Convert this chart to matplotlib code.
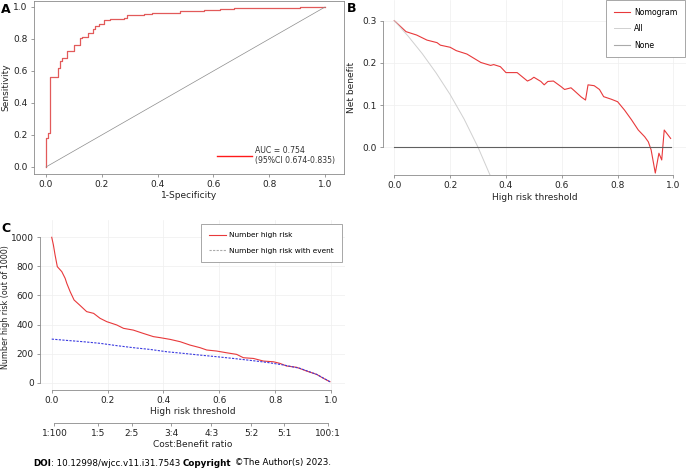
import numpy as np
import matplotlib
matplotlib.use('Agg')
import matplotlib.pyplot as plt
from matplotlib.text import Annotation

plt.rcParams['font.family'] = ['DejaVu Sans']
plt.rcParams['axes.linewidth'] = 0.6

# --- panel A: ROC curve (step vertices, steps-post) ---
roc_fpr = [0.0, 0.0, 0.007, 0.013, 0.042, 0.049, 0.057, 0.075, 0.101, 0.121, 0.129, 0.149,
           0.168, 0.177, 0.191, 0.209, 0.23, 0.28, 0.29, 0.35, 0.38, 0.481, 0.567, 0.624,
           0.672, 0.91, 1.0]
roc_tpr = [0.0, 0.18, 0.21, 0.5625, 0.619, 0.66, 0.679, 0.723, 0.765, 0.806, 0.812, 0.835,
           0.86, 0.88, 0.894, 0.917, 0.925, 0.931, 0.948, 0.956, 0.962, 0.973, 0.979, 0.988,
           0.996, 1.0, 1.0]
auc_label = 'AUC = 0.754\n(95%CI 0.674-0.835)'

# --- panel B: decision curve ---
dca_thr = [0.0, 0.042, 0.08, 0.117, 0.153, 0.165, 0.2, 0.222, 0.26, 0.295, 0.31, 0.345,
           0.356, 0.38, 0.4, 0.44, 0.477, 0.49, 0.5, 0.525, 0.537, 0.55, 0.57, 0.597, 0.61,
           0.633, 0.645, 0.67, 0.685, 0.694, 0.716, 0.735, 0.75, 0.777, 0.8, 0.825, 0.85,
           0.874, 0.897, 0.91, 0.92, 0.935, 0.948, 0.958, 0.967, 0.99]
dca_nomogram = [0.3, 0.274, 0.266, 0.254, 0.248, 0.242, 0.237, 0.229, 0.221, 0.207, 0.201,
                0.194, 0.196, 0.191, 0.177, 0.177, 0.157, 0.161, 0.166, 0.156, 0.148, 0.156,
                0.157, 0.144, 0.137, 0.141, 0.134, 0.119, 0.112, 0.148, 0.146, 0.137, 0.12,
                0.114, 0.108, 0.088, 0.065, 0.041, 0.025, 0.013, -0.006, -0.061, -0.014,
                -0.03, 0.041, 0.021]
all_thr = [0.0, 0.05, 0.1, 0.15, 0.2, 0.25, 0.3, 0.345]
all_nb = [0.3, 0.263, 0.222, 0.176, 0.125, 0.067, 0.0, -0.069]
none_thr = [0.0, 0.99]
none_nb = [0.0, 0.0]

# --- panel C: clinical impact curve ---
cic_thr = [0.0, 0.006, 0.012, 0.02, 0.036, 0.048, 0.054, 0.066, 0.08, 0.1, 0.125, 0.15,
           0.173, 0.197, 0.233, 0.257, 0.292, 0.328, 0.364, 0.388, 0.424, 0.46, 0.495,
           0.531, 0.555, 0.59, 0.626, 0.662, 0.686, 0.722, 0.758, 0.794, 0.817, 0.841,
           0.877, 0.913, 0.949, 0.973, 0.996]
cic_high = [1000, 947, 878, 798, 764, 718, 683, 626, 569, 534, 489, 477, 443, 420, 397, 374,
            362, 339, 317, 310, 298, 282, 259, 241, 225, 218, 206, 195, 172, 167, 149, 144,
            133, 115, 106, 80, 57, 30, 7]
ev_thr = [0.0, 0.054, 0.113, 0.173, 0.233, 0.292, 0.352, 0.412, 0.471, 0.531, 0.59, 0.65,
          0.71, 0.77, 0.83, 0.889, 0.949, 0.996]
cic_event = [300, 291, 282, 271, 255, 241, 229, 213, 202, 190, 179, 167, 154, 140, 122, 99,
             57, 7]
cb_ticks = [0.0099, 1/6, 2/7, 3/7, 4/7, 5/7, 5/6, 0.99]
cb_labels = ['1:100', '1:5', '2:5', '3:4', '4:3', '5:2', '5:1', '100:1']

red = '#e8393b'
txt = '#222222'
spine_c = '#8a8a8a'
fs = 6.5

fig = plt.figure(figsize=(6.86, 4.70), dpi=100)


def style(ax):
    ax.tick_params(labelsize=fs, length=2.5, width=0.6, color=spine_c, labelcolor=txt, pad=2)
    for s in ax.spines.values():
        s.set_color(spine_c)


# A
axA = fig.add_axes([34/686, 1-174/470, 310/686, 173/470])
axA.plot(roc_fpr, roc_tpr, drawstyle='steps-post', color='#e25a5a', lw=0.9, label=auc_label)
axA.plot([0, 1], [0, 1], color='#8c8c8c', lw=0.5)
axA.set_xlim(-0.043, 1.068)
axA.set_ylim(-0.044, 1.0375)
axA.set_xticks(np.arange(0, 1.01, 0.2))
axA.set_yticks(np.arange(0, 1.01, 0.2))
axA.set_xlabel('1-Specificity', fontsize=fs, color=txt, labelpad=1)
axA.set_ylabel('Sensitivity', fontsize=fs, color=txt)
axA.yaxis.set_label_coords(-24/310, 0.5)
style(axA)
legA = axA.legend(loc='lower right', bbox_to_anchor=(0.985, 0.03), frameon=False,
                  fontsize=5.6, handlelength=4.5, handletextpad=0.5, borderpad=0)
legA.get_lines()[0].set_color('#ff1a1a')
legA.get_lines()[0].set_linewidth(1.0)
for t in legA.get_texts():
    t.set_color('#333333')

# B
axB = fig.add_axes([383/686, 1-175/470, 303/686, 175/470])
axB.grid(True, color='#efefef', lw=0.5)
axB.set_axisbelow(True)
axB.plot(dca_thr, dca_nomogram, color=red, lw=0.8, label='Nomogram')
axB.plot(all_thr, all_nb, color='#d0d0d0', lw=0.7, label='All')
axB.plot(none_thr, none_nb, color='#606060', lw=0.8, label='None')
axB.set_xlim(-0.0405, 1.045)
axB.set_ylim(-0.0656, 0.349)
axB.set_xticks(np.arange(0, 1.01, 0.2))
axB.set_yticks([0.0, 0.1, 0.2, 0.3])
axB.spines['top'].set_visible(False)
axB.spines['right'].set_visible(False)
axB.spines['left'].set_bounds(0, 0.3)
axB.spines['bottom'].set_bounds(0, 1)
axB.set_xlabel('High risk threshold', fontsize=fs, color=txt, labelpad=2)
axB.set_ylabel('Net benefit', fontsize=fs, color=txt)
axB.yaxis.set_label_coords(-27/303, 0.5)
style(axB)
legB = axB.legend(loc='upper right', bbox_to_anchor=(0.998, 1.0), fontsize=5.6,
                  fancybox=False, edgecolor='#999999', framealpha=1, borderaxespad=0,
                  handlelength=2.0, handletextpad=0.6, labelspacing=0.95, borderpad=1.0)
legB.get_frame().set_linewidth(0.6)
legB.get_lines()[2].set_color('#aaaaaa')

# C
axC = fig.add_axes([40/686, 1-390/470, 305/686, 170/470])
axC.grid(True, color='#efefef', lw=0.5)
axC.set_axisbelow(True)
axC.plot(cic_thr, cic_high, color=red, lw=0.8, label='Number high risk')
axC.plot(ev_thr, cic_event, color='#3a3ae0', lw=0.8, ls=(0, (2, 1.2)),
         label='Number high risk with event')
axC.set_xlim(-0.042, 1.05)
axC.set_ylim(-50, 1119)
axC.set_xticks(np.arange(0, 1.01, 0.2))
axC.set_yticks(np.arange(0, 1001, 200))
axC.spines['top'].set_visible(False)
axC.spines['right'].set_visible(False)
axC.spines['left'].set_bounds(0, 1000)
axC.spines['bottom'].set_bounds(0, 1)
axC.set_xlabel('High risk threshold', fontsize=fs, color=txt, labelpad=1)
axC.set_ylabel('Number high risk (out of 1000)', fontsize=5.8, color=txt)
axC.yaxis.set_label_coords(-30/305, 0.488)
style(axC)
legC = axC.legend(loc='upper right', bbox_to_anchor=(0.99, 0.976), fontsize=5.3,
                  fancybox=False, edgecolor='#999999', framealpha=1, borderaxespad=0,
                  handlelength=2.2, handletextpad=0.5, labelspacing=1.3, borderpad=1.1)
legC.get_frame().set_linewidth(0.6)
legC.get_lines()[1].set_color('#aaaaaa')

sec = axC.secondary_xaxis(-0.195)
sec.set_xticks(cb_ticks)
sec.set_xticklabels(cb_labels)
sec.spines['bottom'].set_bounds(cb_ticks[0], cb_ticks[-1])
sec.set_xlabel('Cost:Benefit ratio', fontsize=fs, color=txt, labelpad=1)
style(sec)

# panel letters
fig.text(1/686, 1-3/470, 'A', fontsize=9, fontweight='bold', va='top')
fig.text(347/686, 1-2/470, 'B', fontsize=9, fontweight='bold', va='top')
fig.text(1/686, 1-222/470, 'C', fontsize=9, fontweight='bold', va='top')

# footer, mixed bold / regular pieces chained one after another
prev = fig.text(33/686, 1-463/470, 'DOI', fontsize=6.3, fontweight='bold', va='center')
for s, w in [(': 10.12998/wjcc.v11.i31.7543 ', 'normal'), ('Copyright', 'bold'),
             (' \u00a9The Author(s) 2023.', 'normal')]:
    prev = fig.add_artist(Annotation(s, xy=(1, 0), xycoords=prev, va='bottom',
                                     fontsize=6.3, fontweight=w))

fig.savefig('out.png', dpi=100)
